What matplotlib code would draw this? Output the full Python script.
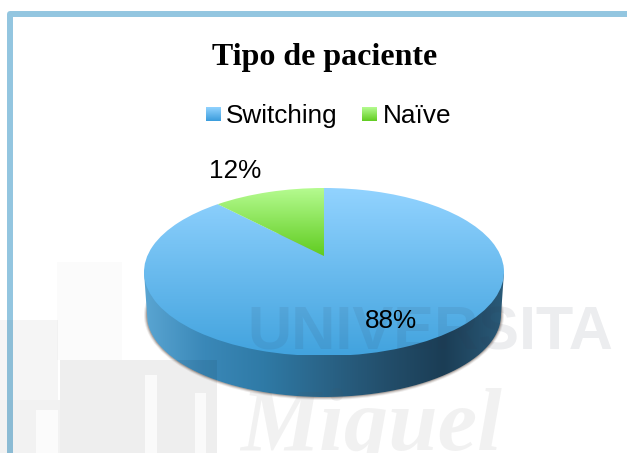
import numpy as np
import matplotlib
matplotlib.use('Agg')
import matplotlib.pyplot as plt
from matplotlib.colors import LinearSegmentedColormap
from matplotlib.patches import PathPatch, Ellipse, Rectangle
from matplotlib.path import Path

# datos
categorias = ['Switching', 'Naïve']
valores = [88, 12]
titulo = 'Tipo de paciente'

SANS = 'Liberation Sans'
SERIF = 'Liberation Serif'

fig = plt.figure(figsize=(6.27, 4.53), dpi=100)
ax = fig.add_axes([0, 0, 1, 1])

# tarta en circulo unidad, luego se pasa a perspectiva
wedges, _ = ax.pie(valores, startangle=90, counterclock=False, radius=1)
for w in wedges:
    w.set_visible(False)
ax.set_aspect('auto')
ax.set_xlim(0, 627)
ax.set_ylim(453, 0)
ax.set_frame_on(False)
ax.set_xticks([])
ax.set_yticks([])

cx, cy, a, b = 324, 272, 180, 84
e = 16 / 84


def persp(xy):
    w = 1 + e * xy[:, 1]
    px = cx + a * np.sqrt(1 - e * e) * xy[:, 0] / w
    py = cy - b * (xy[:, 1] + e) / w
    return np.column_stack([px, py])


def wedge_path(w):
    p = w.get_patch_transform().transform_path(w.get_path())
    return Path(persp(p.vertices), p.codes)


def gradiente(colores, extent, clip, horizontal=False, z=2):
    cmap = LinearSegmentedColormap.from_list('g', colores)
    g = np.linspace(0, 1, 256)
    g = g.reshape(1, -1) if horizontal else g.reshape(-1, 1)
    im = ax.imshow(g, cmap=cmap, extent=extent, aspect='auto', origin='upper',
                   interpolation='bilinear', zorder=z)
    if clip is not None:
        im.set_clip_path(PathPatch(clip, transform=ax.transData))
    return im


# marco
ax.add_patch(PathPatch(Path([(10, 460), (10, 14), (640, 14)]), fill=False,
                       ec='#93c6e0', lw=4.3, joinstyle='round', zorder=1))

# marca de agua
ax.text(247, 350, 'UNIVERSITA', family=SANS, weight='bold', fontsize=44,
        color='#303850', alpha=0.09, ha='left', va='baseline', zorder=6)
ax.text(240, 450, 'Miguel', family=SERIF, style='italic', weight='bold', fontsize=64,
        color='#555555', alpha=0.08, ha='left', va='baseline', zorder=6)
for x0, y0, x1, y1, al in [(57, 262, 122, 360, 0.015), (0, 320, 58, 400, 0.04),
                           (60, 360, 217, 453, 0.065), (0, 400, 60, 453, 0.05)]:
    ax.add_patch(Rectangle((x0, y0), x1 - x0, y1 - y0, fc='black', ec='none',
                           alpha=al, zorder=6))
for x0, y0, x1, y1 in [(145, 375, 157, 453), (195, 393, 206, 453), (36, 410, 58, 453)]:
    ax.add_patch(Rectangle((x0, y0), x1 - x0, y1 - y0, fc='white', ec='none',
                           alpha=0.75, zorder=6.1))

# sombra
for k, al in [(3, 0.10), (2, 0.18), (1, 0.30)]:
    ax.add_patch(Ellipse((324, 315), 2 * (177 + k), 2 * (82 + k), fc='#5a4a40',
                         ec='none', alpha=al, zorder=1.5))

# pared lateral
t = np.linspace(np.pi, 0, 200)
pared = np.column_stack([324 + 177 * np.cos(t), 315 + 82 * np.sin(t)])
pared = np.vstack([[[144, 272]], pared, [[504, 272]], [[144, 272]]])
gradiente(['#5aa5d2', '#3a88b8', '#2f7aa6', '#2a6488', '#234f6c', '#1b3d55', '#2a5a78'],
          (144, 504, 400, 272), Path(pared), horizontal=True)

# cara superior
gradiente(['#92d3ff', '#42a3de'], (144, 504, 355, 188), wedge_path(wedges[0]), z=3)
gradiente(['#b5fb90', '#60cc20'], (200, 330, 256, 188), wedge_path(wedges[1]), z=4)

# etiquetas
etq_pos = [(391, 328), (235, 178)]
for v, (x, y) in zip(valores, etq_pos):
    ax.text(x, y, f'{v}%', family=SANS, fontsize=18.8, color='black',
            ha='center', va='baseline', zorder=7)

# titulo
ax.text(324.5, 65, titulo, family=SERIF, weight='bold', fontsize=23,
        color='black', ha='center', va='baseline', zorder=7)

# leyenda
ley_x = [206, 362]
ley_txt = [226, 382.5]
ley_col = [['#92d3ff', '#3a9cdc'], ['#b5fb90', '#60cc20']]
for nom, x, tx, col in zip(categorias, ley_x, ley_txt, ley_col):
    caja = Path([(x, 107), (x + 14.5, 107), (x + 14.5, 121), (x, 121), (x, 107)])
    gradiente(col, (x, x + 14.5, 121, 107), caja, z=5)
    ax.text(tx, 123, nom, family=SANS, fontsize=18.8, color='black',
            ha='left', va='baseline', zorder=7)

ax.set_xlim(0, 627)
ax.set_ylim(453, 0)
fig.savefig('out.png', dpi=100, facecolor='white')
